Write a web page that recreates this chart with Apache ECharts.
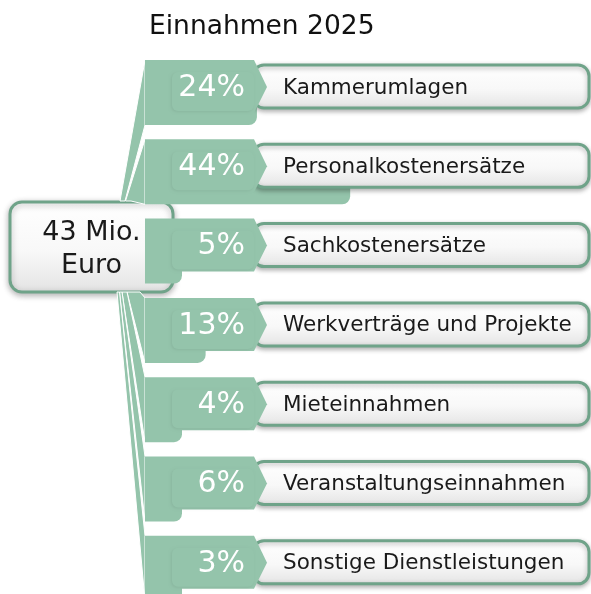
<!DOCTYPE html>
<html><head><meta charset="utf-8">
<script src="https://cdn.jsdelivr.net/npm/echarts@6/dist/echarts.min.js"></script>
<style>html,body{margin:0;padding:0;background:#fff}#c{width:591px;height:594px}</style>
</head><body><div id="c"></div>
<script>
// ---- data ----
const chartTitle = 'Einnahmen 2025';
const totalLabel = ['43 Mio.', 'Euro'];
const categories = ['Kammerumlagen', 'Personalkostenersätze', 'Sachkostenersätze', 'Werkverträge und Projekte', 'Mieteinnahmen', 'Veranstaltungseinnahmen', 'Sonstige Dienstleistungen'];
const shares = [24, 44, 5, 13, 4, 6, 3];

// ---- style / layout ----
const GREEN = '#94c4ab';
const BORDER = '#6fa389';
const FONT = '"DejaVu Sans", sans-serif';
const BOX = { x: 10, y: 202, w: 163, h: 90 };
// where each connector meets the total box: [xA, xB, side]
const anchors = [[120, 125, 'top'], [125.5, 131, 'top'], null, [127, 140, 'bottom'], [122, 127, 'bottom'], [119.5, 122, 'bottom'], [117, 119.5, 'bottom']];

const chart = echarts.init(document.getElementById('c'), null, { renderer: 'canvas' });

function boxFill() {
  return new echarts.graphic.LinearGradient(0, 0, 0, 1, [
    { offset: 0, color: '#ffffff' }, { offset: 0.55, color: '#f8f8f8' }, { offset: 1, color: '#e3e3e3' }
  ]);
}

function renderItem(params, api) {
  const i = api.value(1), v = api.value(0);
  const p0 = api.coord([0, i]), p1 = api.coord([v, i]);
  const x0 = p0[0], c = p0[1];
  const xe = Math.max(p1[0], x0 + 37);
  const W = api.getWidth();
  const top = c - 27, pb = c + 26, eb = c + 38;
  const ch = [];
  const a = anchors[i];
  if (a) {
    const ay = a[2] === 'top' ? BOX.y - 1 : BOX.y + BOX.h;
    const pts = a[2] === 'top'
      ? [[a[0], ay], [x0, top], [x0, eb], [a[1], ay]]
      : [[a[1], ay], [x0, top], [x0, eb], [a[0], ay]];
    ch.push({ type: 'polygon', z2: 1, shape: { points: pts }, style: { fill: GREEN, stroke: '#ffffff', lineWidth: 1 } });
  }
  ch.push({ type: 'rect', z2: 2, shape: { x: x0, y: c - 10, width: xe - x0, height: eb - (c - 10), r: [0, 0, 8, 0] }, style: { fill: GREEN } });
  ch.push({ type: 'rect', z2: 3, shape: { x: x0 + 108, y: c - 22, width: W - 2 - (x0 + 108), height: 43, r: 11 },
    style: { fill: boxFill(), stroke: BORDER, lineWidth: 3, shadowBlur: 5, shadowOffsetY: 2, shadowColor: 'rgba(0,0,0,0.28)' } });
  ch.push({ type: 'polygon', z2: 4, shape: { points: [[x0, top], [x0 + 109, top], [x0 + 122, c], [x0 + 109, pb], [x0, pb]] }, style: { fill: GREEN } });
  ch.push({ type: 'rect', z2: 5, shape: { x: x0 + 27, y: c - 15, width: 82, height: 39, r: 6 },
    style: { fill: GREEN, shadowBlur: 3, shadowOffsetX: -1, shadowOffsetY: 1, shadowColor: 'rgba(0,0,0,0.07)' } });
  ch.push({ type: 'text', z2: 6, style: { text: shares[i] + '%', x: x0 + 100, y: c + 1, align: 'right', verticalAlign: 'middle', textAlign: 'right', textVerticalAlign: 'middle', font: '30px ' + FONT, fill: '#ffffff' } });
  ch.push({ type: 'text', z2: 6, style: { text: categories[i], x: x0 + 138, y: c + 1, align: 'left', verticalAlign: 'middle', textAlign: 'left', textVerticalAlign: 'middle', font: '21.5px ' + FONT, fill: '#1a1a1a' } });
  return { type: 'group', children: ch };
}

chart.setOption({
  animation: false,
  backgroundColor: '#ffffff',
  title: { text: chartTitle, left: 144, top: 9, textStyle: { fontFamily: FONT, fontSize: 26.5, fontWeight: 'normal', color: '#111111' } },
  grid: { left: 145, width: 443, top: 47.35, height: 543.2 },
  xAxis: { type: 'value', min: 0, max: 95, show: false },
  yAxis: { type: 'value', min: -0.5, max: 6.35, inverse: true, show: false },
  series: [{
    type: 'custom', clip: false, renderItem: renderItem,
    encode: { x: 0, y: 1 },
    data: shares.map((v, i) => [v, i])
  }],
  graphic: [{
    type: 'group', z: 100, children: [
      { type: 'rect', shape: { x: BOX.x, y: BOX.y, width: BOX.w, height: BOX.h, r: 12 },
        style: { fill: boxFill(), stroke: BORDER, lineWidth: 3, shadowBlur: 6, shadowOffsetY: 2, shadowColor: 'rgba(0,0,0,0.28)' } },
      { type: 'text', style: { text: totalLabel.join('\n'), x: BOX.x + BOX.w / 2, y: BOX.y + BOX.h / 2 + 2, align: 'center', verticalAlign: 'middle', textAlign: 'center', textVerticalAlign: 'middle', font: '27px ' + FONT, lineHeight: 33, fill: '#1a1a1a' } }
    ]
  }]
});
</script></body></html>
